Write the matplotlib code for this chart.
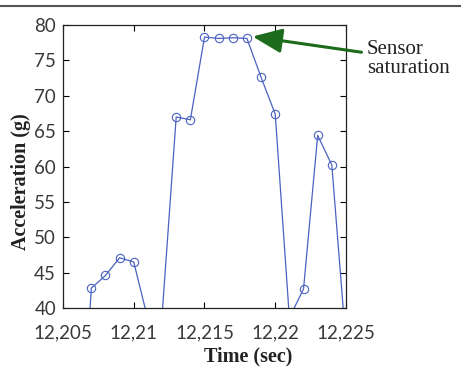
# Acceleration vs time around the sensor saturation event
import matplotlib
matplotlib.use('Agg')
import matplotlib.pyplot as plt
from matplotlib.lines import Line2D
from matplotlib.ticker import FuncFormatter

# ## Data ## #
time = [12.206, 12.207, 12.208, 12.209, 12.210, 12.211, 12.212, 12.213,
        12.214, 12.215, 12.216, 12.217, 12.218, 12.219, 12.220, 12.221,
        12.222, 12.223, 12.224, 12.225]
accel = [10.0, 42.8, 44.6, 47.1, 46.5, 38.4, 38.9, 67.0,
         66.6, 78.3, 78.1, 78.2, 78.1, 72.6, 67.4, 38.6,
         42.7, 64.4, 60.2, 35.0]

xticks = [12.205, 12.21, 12.215, 12.22, 12.225]
yticks = [40, 45, 50, 55, 60, 65, 70, 75, 80]

lineColour = '#4a62c0'
arrowColour = '#1d6b1d'
tickFont = 'Lato'
labelFont = 'Liberation Serif'


def fmt(v, pos):
    # european decimal comma, trailing zeros dropped
    s = ('%.3f' % v).rstrip('0').rstrip('.')
    return s.replace('.', ',')


fig = plt.figure(figsize=(4.61, 3.71), dpi=100)
ax = fig.add_axes([0.1367, 0.1698, 0.6138, 0.7628])

ax.plot(time, accel, color=lineColour, linewidth=0.9, marker='o',
        markersize=6, markerfacecolor='none', markeredgecolor=lineColour,
        markeredgewidth=0.8)

ax.set_xlim(12.205, 12.225)
ax.set_ylim(40, 80)
ax.set_xticks(xticks)
ax.set_yticks(yticks)
ax.xaxis.set_major_formatter(FuncFormatter(fmt))
ax.tick_params(direction='in', top=True, right=True, length=4, width=0.8,
               labelsize=13.5, labelcolor='#3a3a3a')
ax.tick_params(axis='x', pad=12)
ax.tick_params(axis='y', pad=5)
for lab in ax.get_xticklabels() + ax.get_yticklabels():
    lab.set_family(tickFont)
for sp in ax.spines.values():
    sp.set_linewidth(0.9)
    sp.set_color('#222222')

ax.set_xlabel('Time (sec)', fontsize=14.5, fontweight='bold',
              family=labelFont, labelpad=0, color='#222222')
ax.set_ylabel('Acceleration (g)', fontsize=14.5, fontweight='bold',
              family=labelFont, labelpad=1, color='#222222')
# the labels sit a little off the axes centre in the original
ax.xaxis.set_label_coords((248 - 63) / 283, -0.137)
ax.yaxis.set_label_coords(-0.112, 1 - (182 - 25) / 283)

ax.annotate('Sensor\nsaturation', xy=(12.2183, 78.4),
            xytext=(367, 371 - 59), textcoords='figure pixels',
            fontsize=15, family=labelFont, color='#222222',
            ha='left', va='center', linespacing=1.0,
            annotation_clip=False,
            arrowprops=dict(arrowstyle='-|>,head_length=1.2,head_width=0.5',
                            color=arrowColour, linewidth=2.2,
                            shrinkA=2, shrinkB=1))

# rule across the top of the page
fig.add_artist(Line2D([0, 1], [1 - 6 / 371, 1 - 6 / 371],
                      transform=fig.transFigure, color='#555555',
                      linewidth=1.5))

fig.savefig('out.png', dpi=100)
